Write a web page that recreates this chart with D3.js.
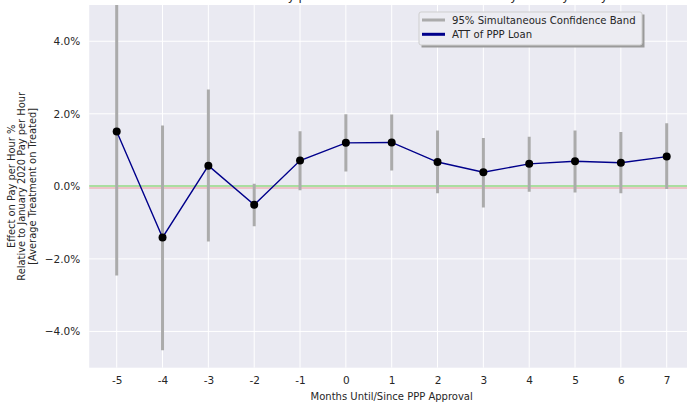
<!DOCTYPE html>
<html>
<head>
<meta charset="utf-8">
<script src="https://cdnjs.cloudflare.com/ajax/libs/d3/7.8.5/d3.min.js"></script>
<style>
body { margin: 0; background: #fff; font-family: "DejaVu Sans", sans-serif; }
svg text { fill: #262626; }
</style>
</head>
<body>
<svg width="687" height="402"></svg>
<script>
// months relative to PPP approval
var months = [-5, -4, -3, -2, -1, 0, 1, 2, 3, 4, 5, 6, 7];
// ATT estimates (%)
var att = [1.51, -1.41, 0.57, -0.51, 0.71, 1.20, 1.21, 0.67, 0.39, 0.62, 0.69, 0.65, 0.82];
// 95% simultaneous confidence band (%)
var bandLow = [-2.46, -4.52, -1.52, -1.10, -0.11, 0.41, 0.44, -0.19, -0.58, -0.15, -0.17, -0.19, -0.07];
var bandHigh = [5.6, 1.68, 2.67, 0.07, 1.52, 1.99, 1.98, 1.54, 1.33, 1.37, 1.54, 1.50, 1.74];
var yTicks = [-4, -2, 0, 2, 4];

var svg = d3.select("svg");

var pL = 89.2, pR = 694.2, pT = 5, pB = 367.7;

var x = d3.scaleLinear().domain([-5.6, 7.6]).range([pL, pR]);
var y = d3.scaleLinear().domain([-5, 5]).range([pB, pT]);

// background
svg.append("rect")
  .attr("x", pL).attr("y", pT)
  .attr("width", pR - pL).attr("height", pB - pT)
  .attr("fill", "#eaeaf2");

// grid
svg.append("g").selectAll("line").data(months).enter().append("line")
  .attr("x1", function(d) { return x(d); }).attr("x2", function(d) { return x(d); })
  .attr("y1", pT).attr("y2", pB)
  .attr("stroke", "#fff").attr("stroke-width", 1);
svg.append("g").selectAll("line").data(yTicks).enter().append("line")
  .attr("x1", pL).attr("x2", pR)
  .attr("y1", function(d) { return y(d); }).attr("y2", function(d) { return y(d); })
  .attr("stroke", "#fff").attr("stroke-width", 1);

// title (mostly clipped at the top)
svg.append("text")
  .attr("x", (pL + pR) / 2).attr("y", -0.5)
  .attr("text-anchor", "middle")
  .style("font-size", "12px")
  .text("Effect of PPP on Pay per Hour Relative to Event Month by Monthly Study");

// axes
var xAxis = d3.axisBottom(x).tickValues(months).tickSize(0).tickPadding(9)
  .tickFormat(function(d) { return String(d); });
var gx = svg.append("g").attr("transform", "translate(0," + pB + ")").call(xAxis);
gx.select(".domain").remove();
gx.selectAll("text").style("font-size", "10.5px").style("font-family", "DejaVu Sans");

var yAxis = d3.axisLeft(y).tickValues(yTicks).tickSize(0).tickPadding(9)
  .tickFormat(function(d) { return (d < 0 ? "\u2212" : "") + Math.abs(d).toFixed(1) + "%"; });
var gy = svg.append("g").attr("transform", "translate(" + pL + ",0)").call(yAxis);
gy.select(".domain").remove();
gy.selectAll("text").style("font-size", "10.5px").style("font-family", "DejaVu Sans");

// zero reference lines
svg.append("line")
  .attr("x1", pL).attr("x2", pR)
  .attr("y1", y(0) - 0.35).attr("y2", y(0) - 0.35)
  .attr("stroke", "#a9dea0").attr("stroke-width", 2);
svg.append("line")
  .attr("x1", pL).attr("x2", pR)
  .attr("y1", y(0) + 1.6).attr("y2", y(0) + 1.6)
  .attr("stroke", "#ef9ba0").attr("stroke-width", 1.1);

// confidence bands
svg.append("clipPath").attr("id", "plotclip").append("rect")
  .attr("x", pL).attr("y", pT).attr("width", pR - pL).attr("height", pB - pT);
var plot = svg.append("g").attr("clip-path", "url(#plotclip)");
plot.selectAll("line.band").data(months).enter().append("line")
  .attr("class", "band")
  .attr("x1", function(d) { return x(d); }).attr("x2", function(d) { return x(d); })
  .attr("y1", function(d, i) { return y(bandLow[i]); })
  .attr("y2", function(d, i) { return y(bandHigh[i]); })
  .attr("stroke", "#ababab").attr("stroke-width", 3);

// ATT line
var line = d3.line()
  .x(function(d, i) { return x(months[i]); })
  .y(function(d) { return y(d); });
plot.append("path").datum(att)
  .attr("d", line)
  .attr("fill", "none").attr("stroke", "#00008b").attr("stroke-width", 1.4);

plot.selectAll("circle").data(att).enter().append("circle")
  .attr("cx", function(d, i) { return x(months[i]); })
  .attr("cy", function(d) { return y(d); })
  .attr("r", 4).attr("fill", "#000");

// axis labels
svg.append("text")
  .attr("x", (pL + pR) / 2).attr("y", 400)
  .attr("text-anchor", "middle")
  .style("font-size", "10px")
  .text("Months Until/Since PPP Approval");

var ylab = ["Effect on Pay per Hour %", "Relative to January 2020 Pay per Hour", "[Average Treatment on Treated]"];
var yl = svg.append("text")
  .attr("transform", "translate(0," + ((pT + pB) / 2) + ") rotate(-90)")
  .attr("text-anchor", "middle")
  .style("font-size", "9.9px");
ylab.forEach(function(t, i) {
  yl.append("tspan").attr("x", 0).attr("y", 14.5 + i * 10.6).text(t);
});

// legend
var lg = svg.append("g").attr("transform", "translate(419,12)");
lg.append("rect").attr("x", 2.5).attr("y", 2.5).attr("width", 223).attr("height", 33)
  .attr("fill", "#9a9a9a");
lg.append("rect").attr("x", 0).attr("y", 0).attr("width", 223).attr("height", 33)
  .attr("fill", "#ececf2").attr("stroke", "#cfcfcf").attr("stroke-width", 1).attr("rx", 2);
var items = [["95% Simultaneous Confidence Band", "#ababab"], ["ATT of PPP Loan", "#00008b"]];
items.forEach(function(it, i) {
  var yy = 8 + i * 14.3;
  lg.append("line").attr("x1", 3).attr("x2", 26).attr("y1", yy).attr("y2", yy)
    .attr("stroke", it[1]).attr("stroke-width", 3);
  lg.append("text").attr("x", 33).attr("y", yy + 3.6)
    .style("font-size", "10.1px").text(it[0]);
});
</script>
</body>
</html>
